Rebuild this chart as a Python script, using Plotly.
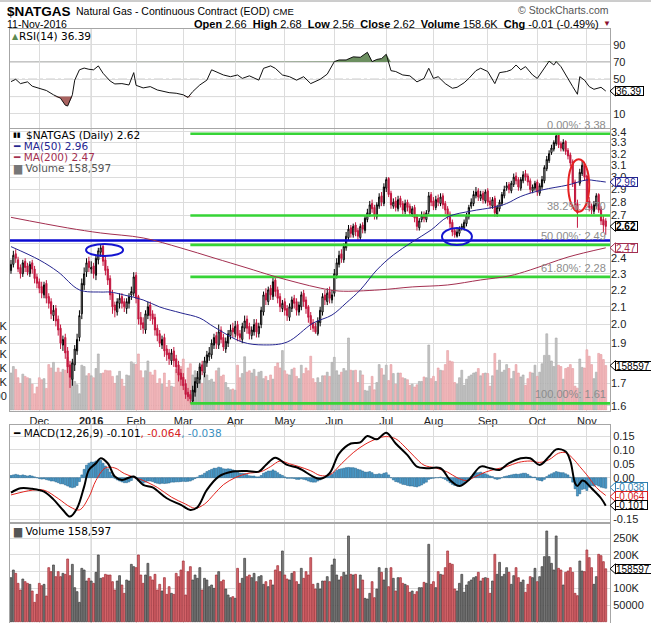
import numpy as np
import pandas as pd
import plotly.graph_objects as go

# trading days on the chart (CME holidays taken out)
holidays = ["2015-11-26", "2015-12-25", "2016-01-01", "2016-01-18", "2016-02-15",
            "2016-03-25", "2016-05-30", "2016-07-04", "2016-09-05"]
dates = pd.bdate_range("2015-11-12", "2016-11-11")
dates = dates[~dates.isin(pd.to_datetime(holidays))]

opens = [
    2.32, 2.36, 2.43, 2.39, 2.34, 2.30, 2.38, 2.35, 2.30, 2.37, 2.33, 2.28,
    2.25, 2.22, 2.17, 2.24, 2.16, 2.13, 2.05, 2.09, 2.03, 1.98, 1.89, 1.93, 1.86, 1.79, 1.72, 1.79, 1.86, 1.93, 2.06, 2.23, 2.31, 2.38,
    2.33, 2.35, 2.29, 2.39, 2.44, 2.48, 2.39, 2.33, 2.27, 2.18, 2.11, 2.07, 2.12, 2.16, 2.13, 2.09, 2.12, 2.17, 2.18,
    2.29, 2.16, 2.04, 2.01, 1.97, 2.05, 2.11, 2.06, 2.04, 1.98, 1.95, 1.89, 1.93, 1.87, 1.85, 1.81, 1.86, 1.82, 1.79, 1.75,
    1.73, 1.70, 1.66, 1.65, 1.62, 1.66, 1.70, 1.72, 1.79, 1.75, 1.80, 1.83, 1.84, 1.89, 1.94, 1.89, 1.97, 1.93, 1.87, 1.90, 1.94, 1.98,
    1.95, 2.00, 1.95, 1.92, 1.98, 2.03, 1.99, 1.94, 1.96, 2.01, 1.95, 2.00, 2.07, 2.18, 2.13, 2.21, 2.16, 2.26, 2.20, 2.16, 2.09,
    2.13, 2.09, 2.04, 2.09, 2.15, 2.13, 2.07, 2.10, 2.18, 2.14, 2.10, 2.05, 2.01, 1.99, 1.95, 2.01, 2.07, 2.17, 2.13, 2.19, 2.14,
    2.18, 2.29, 2.36, 2.43, 2.39, 2.47, 2.54, 2.61, 2.56, 2.63, 2.59, 2.54, 2.63, 2.59, 2.67, 2.71, 2.79, 2.76, 2.69, 2.77, 2.85, 2.79,
    2.91, 2.99, 2.87, 2.77, 2.81, 2.75, 2.83, 2.79, 2.73, 2.80, 2.77, 2.71, 2.76, 2.69, 2.61, 2.67, 2.71, 2.67, 2.73, 2.86,
    2.81, 2.76, 2.83, 2.79, 2.85, 2.79, 2.75, 2.71, 2.65, 2.59, 2.55, 2.57, 2.61, 2.61, 2.64, 2.69, 2.77, 2.79, 2.85, 2.89, 2.83, 2.87, 2.81,
    2.89, 2.81, 2.77, 2.83, 2.71, 2.75, 2.79, 2.85, 2.91, 2.94, 2.89, 2.94, 3.01, 2.98, 2.91, 2.97, 3.03, 3.01, 2.97, 2.89, 2.91,
    2.96, 2.87, 2.92, 2.97, 3.07, 3.14, 3.21, 3.24, 3.29, 3.37, 3.29, 3.24, 3.31, 3.23, 3.19, 3.13, 2.96, 2.79, 2.95, 3.03, 3.11,
    3.01, 2.81, 2.77, 2.73, 2.77, 2.86, 2.75, 2.67, 2.66,
]
highs = [
    2.39, 2.45, 2.46, 2.41, 2.36, 2.39, 2.40, 2.37, 2.38, 2.39, 2.35, 2.30,
    2.27, 2.25, 2.25, 2.26, 2.18, 2.15, 2.11, 2.11, 2.05, 2.00, 1.94, 1.95, 1.88, 1.81, 1.82, 1.89, 1.95, 2.08, 2.27, 2.34, 2.40, 2.41,
    2.38, 2.37, 2.42, 2.47, 2.49, 2.49, 2.41, 2.35, 2.29, 2.20, 2.13, 2.15, 2.18, 2.18, 2.15, 2.15, 2.18, 2.22, 2.31,
    2.31, 2.17, 2.07, 2.04, 2.08, 2.13, 2.13, 2.08, 2.06, 2.00, 1.97, 1.94, 1.95, 1.89, 1.87, 1.87, 1.88, 1.84, 1.81, 1.77,
    1.75, 1.72, 1.68, 1.67, 1.69, 1.73, 1.76, 1.80, 1.81, 1.83, 1.86, 1.88, 1.92, 1.95, 1.96, 2.00, 1.99, 1.95, 1.93, 1.97, 2.00, 2.01,
    2.02, 2.02, 1.97, 2.01, 2.05, 2.05, 2.01, 1.99, 2.03, 2.03, 2.01, 2.10, 2.19, 2.21, 2.22, 2.23, 2.28, 2.28, 2.22, 2.18, 2.14,
    2.15, 2.11, 2.12, 2.16, 2.17, 2.15, 2.13, 2.19, 2.20, 2.16, 2.11, 2.07, 2.03, 2.01, 2.04, 2.10, 2.18, 2.20, 2.21, 2.22, 2.20,
    2.33, 2.40, 2.45, 2.46, 2.50, 2.58, 2.63, 2.63, 2.64, 2.65, 2.61, 2.64, 2.65, 2.70, 2.75, 2.81, 2.82, 2.78, 2.80, 2.87, 2.88, 2.95,
    3.00, 3.00, 2.89, 2.83, 2.84, 2.85, 2.85, 2.81, 2.82, 2.82, 2.79, 2.77, 2.78, 2.71, 2.68, 2.73, 2.73, 2.74, 2.88, 2.88,
    2.84, 2.85, 2.86, 2.87, 2.87, 2.81, 2.77, 2.73, 2.67, 2.61, 2.60, 2.62, 2.64, 2.67, 2.72, 2.78, 2.83, 2.89, 2.92, 2.91, 2.89, 2.89, 2.90,
    2.91, 2.84, 2.84, 2.85, 2.78, 2.82, 2.88, 2.93, 2.96, 2.96, 2.97, 3.03, 3.04, 3.00, 3.00, 3.05, 3.06, 3.03, 2.99, 2.94, 2.97,
    2.98, 2.95, 3.01, 3.10, 3.18, 3.23, 3.28, 3.32, 3.38, 3.38, 3.31, 3.33, 3.32, 3.25, 3.21, 3.15, 2.98, 2.82, 3.07, 3.14, 3.13,
    3.02, 2.84, 2.79, 2.81, 2.87, 2.87, 2.77, 2.70, 2.68,
]
lows = [
    2.30, 2.34, 2.37, 2.31, 2.27, 2.28, 2.31, 2.29, 2.28, 2.30, 2.24, 2.21,
    2.18, 2.15, 2.15, 2.12, 2.09, 2.03, 2.02, 1.99, 1.94, 1.87, 1.86, 1.82, 1.75, 1.68, 1.69, 1.76, 1.84, 1.91, 2.03, 2.20, 2.28, 2.31,
    2.30, 2.27, 2.26, 2.36, 2.41, 2.35, 2.29, 2.23, 2.14, 2.06, 2.04, 2.05, 2.09, 2.09, 2.07, 2.06, 2.09, 2.14, 2.16,
    2.12, 2.00, 1.97, 1.95, 1.95, 2.03, 2.02, 2.00, 1.94, 1.91, 1.88, 1.87, 1.83, 1.81, 1.79, 1.79, 1.78, 1.75, 1.71, 1.69,
    1.67, 1.63, 1.62, 1.61, 1.61, 1.64, 1.68, 1.70, 1.74, 1.73, 1.78, 1.81, 1.82, 1.87, 1.87, 1.87, 1.90, 1.86, 1.85, 1.88, 1.92, 1.93,
    1.93, 1.91, 1.91, 1.90, 1.96, 1.95, 1.92, 1.92, 1.94, 1.93, 1.93, 1.98, 2.05, 2.11, 2.11, 2.14, 2.14, 2.16, 2.12, 2.07, 2.07,
    2.05, 2.02, 2.02, 2.07, 2.09, 2.05, 2.05, 2.08, 2.10, 2.06, 2.01, 1.97, 1.96, 1.95, 1.94, 1.99, 2.05, 2.11, 2.11, 2.12, 2.12,
    2.16, 2.27, 2.34, 2.37, 2.37, 2.45, 2.52, 2.54, 2.54, 2.55, 2.52, 2.52, 2.57, 2.57, 2.65, 2.69, 2.72, 2.67, 2.67, 2.75, 2.77, 2.77,
    2.88, 2.84, 2.75, 2.75, 2.73, 2.73, 2.76, 2.71, 2.71, 2.73, 2.70, 2.69, 2.65, 2.59, 2.59, 2.65, 2.65, 2.65, 2.71, 2.77,
    2.74, 2.74, 2.77, 2.77, 2.75, 2.71, 2.67, 2.61, 2.55, 2.54, 2.54, 2.55, 2.59, 2.59, 2.62, 2.67, 2.75, 2.77, 2.83, 2.81, 2.81, 2.79, 2.79,
    2.77, 2.75, 2.75, 2.69, 2.69, 2.73, 2.77, 2.83, 2.89, 2.87, 2.87, 2.92, 2.94, 2.89, 2.89, 2.95, 2.97, 2.93, 2.87, 2.87, 2.89,
    2.85, 2.85, 2.90, 2.95, 3.05, 3.12, 3.19, 3.22, 3.27, 3.25, 3.22, 3.22, 3.19, 3.15, 3.09, 2.92, 2.74, 2.61, 2.93, 3.01, 2.97,
    2.77, 2.73, 2.71, 2.71, 2.75, 2.72, 2.63, 2.58, 2.56,
]
closes = [
    2.36, 2.42, 2.40, 2.33, 2.30, 2.37, 2.34, 2.31, 2.36, 2.33, 2.27, 2.24,
    2.21, 2.18, 2.23, 2.15, 2.12, 2.06, 2.08, 2.02, 1.97, 1.90, 1.92, 1.85, 1.78, 1.73, 1.80, 1.87, 1.92, 2.05, 2.24, 2.30, 2.37, 2.34,
    2.34, 2.30, 2.40, 2.45, 2.47, 2.38, 2.32, 2.26, 2.17, 2.10, 2.08, 2.13, 2.15, 2.12, 2.10, 2.13, 2.16, 2.19, 2.28,
    2.15, 2.03, 2.00, 1.98, 2.06, 2.10, 2.05, 2.03, 1.97, 1.94, 1.90, 1.92, 1.86, 1.84, 1.82, 1.85, 1.81, 1.78, 1.74, 1.72,
    1.69, 1.65, 1.64, 1.63, 1.67, 1.71, 1.73, 1.78, 1.76, 1.81, 1.84, 1.85, 1.90, 1.93, 1.90, 1.96, 1.92, 1.88, 1.91, 1.95, 1.97, 1.96,
    1.99, 1.94, 1.93, 1.99, 2.02, 1.98, 1.95, 1.97, 2.00, 1.96, 1.99, 2.08, 2.17, 2.14, 2.20, 2.17, 2.25, 2.19, 2.15, 2.10, 2.12,
    2.08, 2.05, 2.10, 2.14, 2.12, 2.08, 2.11, 2.17, 2.13, 2.09, 2.04, 2.00, 1.98, 1.96, 2.02, 2.08, 2.16, 2.14, 2.18, 2.15, 2.17,
    2.30, 2.37, 2.42, 2.40, 2.48, 2.55, 2.60, 2.57, 2.62, 2.58, 2.55, 2.62, 2.60, 2.68, 2.72, 2.78, 2.75, 2.70, 2.78, 2.84, 2.80, 2.92,
    2.98, 2.86, 2.78, 2.80, 2.76, 2.82, 2.78, 2.74, 2.79, 2.76, 2.72, 2.75, 2.68, 2.62, 2.66, 2.70, 2.68, 2.72, 2.85, 2.80,
    2.77, 2.82, 2.80, 2.84, 2.78, 2.74, 2.70, 2.64, 2.58, 2.56, 2.58, 2.60, 2.62, 2.65, 2.70, 2.76, 2.80, 2.86, 2.88, 2.84, 2.86, 2.82, 2.88,
    2.80, 2.78, 2.82, 2.72, 2.76, 2.80, 2.86, 2.90, 2.93, 2.90, 2.95, 3.00, 2.97, 2.92, 2.98, 3.02, 3.00, 2.96, 2.90, 2.92, 2.95,
    2.88, 2.93, 2.98, 3.08, 3.15, 3.20, 3.25, 3.30, 3.36, 3.28, 3.25, 3.30, 3.22, 3.18, 3.12, 2.95, 2.78, 2.72, 3.04, 3.10, 3.00,
    2.80, 2.76, 2.74, 2.78, 2.85, 2.74, 2.66, 2.63, 2.62,
]
# volume in thousands of contracts
volumes = [
    132, 155, 145, 115, 95, 128, 120, 115, 112, 92, 58, 82,
    115, 108, 112, 77, 162, 150, 170, 135, 150, 135, 145, 142, 188, 138, 172, 102, 90, 58, 160, 155, 122, 130,
    122, 115, 148, 200, 130, 132, 142, 140, 140, 120, 95, 122, 138, 110, 85, 125, 122, 172, 165,
    162, 200, 140, 115, 140, 175, 135, 125, 142, 95, 112, 92, 132, 82, 105, 85, 82, 145, 135, 155,
    182, 80, 150, 165, 125, 140, 130, 162, 95, 130, 125, 105, 110, 100, 140, 150, 120, 125, 98, 80, 72, 75,
    70, 160, 115, 130, 190, 135, 140, 132, 145, 120, 135, 138, 112, 120, 105, 125, 110, 155, 168, 150, 212,
    140, 128, 125, 145, 150, 120, 112, 160, 130, 150, 140, 192, 112, 98, 115, 98, 122, 122, 135, 120, 170,
    188, 140, 125, 135, 148, 140, 257, 142, 140, 142, 98, 140, 125, 70, 68, 85, 120, 72, 98, 162, 148, 125,
    160, 105, 162, 130, 92, 132, 132, 115, 112, 108, 88, 92, 82, 90, 102, 102, 118, 115, 232, 112,
    120, 102, 150, 142, 140, 162, 212, 175, 172, 98, 92, 115, 142, 88, 110, 120, 125, 132, 135, 148, 122, 130, 132,
    130, 85, 122, 202, 142, 178, 135, 142, 162, 148, 112, 138, 162, 132, 118, 125, 88, 112, 135, 132, 160,
    120, 135, 165, 195, 272, 195, 175, 155, 257, 160, 155, 110, 148, 152, 162, 148, 85, 78, 182, 152, 150,
    215, 192, 162, 112, 135, 202, 198, 180, 158.597,
]
macd_hist = [
    0.008, 0.010, 0.012, 0.010, 0.008, 0.010, 0.008, 0.006, 0.008, 0.006, 0.003, 0.000,
    -0.003, -0.005, -0.004, -0.007, -0.009, -0.012, -0.012, -0.015, -0.018, -0.022, -0.022, -0.026, -0.030, -0.034, -0.036, -0.034, -0.028, -0.014, 0.010, 0.030, 0.045, 0.052,
    0.056, 0.056, 0.060, 0.064, 0.062, 0.052, 0.042, 0.032, 0.020, 0.008, -0.002, -0.008, -0.012, -0.015, -0.018, -0.018, -0.015, -0.010, 0.002,
    -0.004, -0.012, -0.018, -0.020, -0.016, -0.012, -0.012, -0.014, -0.018, -0.020, -0.022, -0.020, -0.021, -0.020, -0.019, -0.016, -0.016, -0.015, -0.015, -0.014,
    -0.013, -0.014, -0.013, -0.012, -0.008, -0.003, 0.002, 0.008, 0.010, 0.016, 0.022, 0.026, 0.030, 0.034, 0.034, 0.038, 0.036, 0.032, 0.031, 0.032, 0.031, 0.028,
    0.026, 0.020, 0.016, 0.016, 0.015, 0.011, 0.007, 0.006, 0.006, 0.003, 0.003, 0.008, 0.016, 0.020, 0.024, 0.024, 0.028, 0.024, 0.018, 0.012, 0.008,
    0.003, -0.002, -0.002, -0.002, -0.003, -0.006, -0.006, -0.004, -0.006, -0.008, -0.012, -0.015, -0.016, -0.016, -0.012, -0.008, 0.000, 0.002, 0.006, 0.008, 0.012,
    0.020, 0.026, 0.030, 0.032, 0.034, 0.036, 0.037, 0.036, 0.036, 0.034, 0.030, 0.028, 0.024, 0.020, 0.020, 0.022, 0.018, 0.012, 0.012, 0.014, 0.012, 0.016,
    0.018, 0.010, 0.000, -0.008, -0.014, -0.016, -0.020, -0.024, -0.025, -0.028, -0.030, -0.030, -0.032, -0.033, -0.030, -0.026, -0.020, -0.016, -0.006, -0.003,
    -0.002, 0.000, 0.000, 0.002, -0.002, -0.006, -0.012, -0.018, -0.024, -0.028, -0.030, -0.028, -0.024, -0.018, -0.012, -0.004, 0.004, 0.012, 0.018, 0.018, 0.020, 0.016, 0.014,
    0.010, 0.006, 0.004, -0.004, -0.006, -0.004, 0.000, 0.004, 0.006, 0.008, 0.010, 0.012, 0.013, 0.012, 0.014, 0.016, 0.016, 0.012, 0.006, 0.002, 0.002,
    -0.008, -0.010, -0.012, -0.006, 0.004, 0.010, 0.014, 0.018, 0.022, 0.020, 0.018, 0.018, 0.014, 0.010, 0.002, -0.016, -0.040, -0.066, -0.058, -0.042, -0.040,
    -0.046, -0.034, -0.028, -0.030, -0.026, -0.030, -0.034, -0.036, -0.038,
]

# indicator lines read at sample days (index into dates)
macd_idx = [0, 4, 9, 14, 18, 22, 25, 28, 31, 33, 36, 38, 41, 44, 47, 52, 56, 60, 66, 72, 76, 79, 83, 88,
            94, 100, 105, 108, 112, 117, 122, 128, 131, 135, 139, 144, 148, 151, 155, 159, 163, 168, 172,
            176, 182, 186, 190, 194, 199, 203, 207, 211, 216, 220, 224, 228, 231, 235, 237, 239, 240, 242,
            243, 246, 250, 252]
macd_vals = [-0.054, -0.038, -0.040, -0.050, -0.078, -0.116, -0.140, -0.110, -0.032, 0.028, 0.052, 0.070,
             0.052, 0.004, -0.008, 0.004, -0.026, -0.035, -0.074, -0.098, -0.116, -0.106, -0.044, 0.004,
             0.022, 0.024, 0.022, 0.046, 0.072, 0.046, 0.034, 0.004, -0.004, 0.016, 0.087, 0.123, 0.127,
             0.150, 0.138, 0.162, 0.123, 0.081, 0.040, 0.034, 0.034, -0.008, -0.030, -0.008, 0.040, 0.034,
             0.028, 0.052, 0.070, 0.070, 0.046, 0.076, 0.102, 0.094, 0.060, -0.020, -0.030, -0.010, -0.012,
             -0.038, -0.074, -0.101]
signal_idx = [0, 9, 14, 20, 25, 29, 33, 36, 40, 44, 48, 52, 56, 62, 68, 74, 78, 82, 86, 90, 95, 100, 106,
              110, 114, 118, 122, 127, 131, 135, 140, 145, 150, 155, 159, 163, 167, 171, 175, 180, 185, 189,
              193, 197, 201, 205, 210, 215, 220, 224, 228, 232, 235, 238, 241, 244, 248, 252]
signal_vals = [-0.062, -0.045, -0.045, -0.075, -0.105, -0.116, -0.070, -0.010, 0.035, 0.035, 0.015, 0.002,
               -0.010, -0.035, -0.070, -0.095, -0.110, -0.095, -0.060, -0.025, 0.000, 0.015, 0.022, 0.040,
               0.060, 0.050, 0.040, 0.025, 0.008, 0.010, 0.050, 0.090, 0.120, 0.140, 0.148, 0.140, 0.110,
               0.075, 0.045, 0.035, 0.020, 0.000, -0.010, 0.005, 0.020, 0.030, 0.040, 0.055, 0.060, 0.055,
               0.065, 0.088, 0.090, 0.070, 0.040, 0.010, -0.035, -0.064]
rsi_idx = [0, 2, 4, 7, 9, 12, 15, 18, 21, 23, 24, 26, 27, 29, 31, 33, 35, 37, 39, 42, 44, 47, 50, 52, 53,
           56, 59, 62, 65, 67, 70, 73, 75, 77, 80, 83, 85, 88, 90, 93, 96, 98, 101, 105, 107, 110, 112,
           115, 118, 121, 124, 127, 131, 134, 137, 139, 142, 145, 148, 151, 153, 155, 157, 159, 161, 163,
           166, 169, 172, 175, 177, 179, 181, 184, 187, 189, 192, 194, 197, 199, 202, 205, 207, 210, 212,
           214, 216, 218, 221, 223, 225, 228, 230, 231, 233, 235, 238, 240, 241, 243, 245, 247, 250, 252]
rsi_vals = [47.3, 50.0, 45.0, 47.0, 42.0, 39.6, 37.0, 32.0, 28.0, 20.0, 19.0, 32.0, 49.0, 61.0, 63.0, 61.6,
            61.0, 65.5, 57.0, 48.0, 44.6, 45.0, 43.4, 57.7, 43.0, 40.0, 41.5, 37.6, 35.7, 34.5, 33.8, 32.0,
            29.0, 35.7, 43.4, 49.0, 61.0, 57.0, 55.0, 53.0, 55.0, 51.0, 54.0, 49.0, 62.7, 65.5, 62.7, 55.0,
            53.0, 49.0, 53.0, 45.0, 50.0, 56.0, 70.5, 72.4, 72.4, 76.0, 75.5, 81.3, 70.5, 73.0, 74.0, 79.0,
            60.0, 59.0, 55.0, 54.0, 47.0, 51.0, 62.8, 51.0, 53.0, 45.0, 39.6, 40.7, 46.0, 51.0, 60.0, 62.8,
            59.0, 45.0, 57.7, 59.0, 61.0, 66.6, 61.0, 64.7, 55.0, 51.0, 59.0, 71.0, 66.6, 70.5, 64.7, 55.0,
            41.5, 32.6, 53.0, 49.0, 41.5, 38.4, 40.7, 36.39]
ma50_idx = [0, 12, 20, 29, 38, 42, 48, 56, 63, 72, 80, 86, 98, 107, 117, 128, 136, 142, 148, 155, 162,
            170, 178, 185, 195, 204, 210, 216, 225, 236, 244, 248, 252]
ma50_vals = [2.478, 2.389, 2.311, 2.200, 2.187, 2.187, 2.169, 2.140, 2.099, 2.065, 2.036, 1.987, 1.906,
             1.891, 1.906, 2.008, 2.053, 2.122, 2.200, 2.324, 2.422, 2.510, 2.594, 2.689, 2.733, 2.760,
             2.790, 2.845, 2.896, 2.936, 2.977, 2.970, 2.960]
ma200_idx = [0, 24, 38, 56, 72, 86, 100, 111, 122, 131, 139, 156, 170, 185, 199, 211, 220, 236, 252]
ma200_vals = [2.686, 2.609, 2.573, 2.538, 2.469, 2.402, 2.337, 2.286, 2.242, 2.211, 2.193, 2.200, 2.218,
              2.230, 2.261, 2.286, 2.324, 2.408, 2.470]

fib_labels = ["0.00%", "38.2%", "50.00%", "61.80%", "100.00%"]
fib_levels = [3.38, 2.70, 2.49, 2.28, 1.61]
support_level = 2.52
month_labels = ["Dec", "<b>2016</b>", "Feb", "Mar", "Apr", "May", "Jun", "Jul", "Aug", "Sep", "Oct", "Nov"]

n = len(dates)
for arr in (opens, highs, lows, closes, volumes, macd_hist):
    assert len(arr) == n, (len(arr), n)

x = list(range(n))
x_lo, x_hi = -0.42, 253.8
month_pos = [i for i in range(1, n) if dates[i].month != dates[i - 1].month]
up = [i == 0 or closes[i] >= closes[i - 1] for i in range(n)]
fib_start = int(np.argmin(lows))

W, H, ML, MR, MT = 651, 623, 10, 41, 29
PW, PH = W - ML - MR, H - MT


def px_x(p):
    return (p - ML) / PW


def px_y(p):
    return (H - p) / PH


ARIAL = "Arial, Liberation Sans, sans-serif"
VERD = "DejaVu Sans, Verdana, sans-serif"
GRID = "#dcdcdc"
BORDER = "#a6a6a6"
RED = "#c3173f"

fig = go.Figure()

# ---- main panel: volume overlay behind the price
fig.add_trace(go.Bar(
    x=x, y=volumes, xaxis="x", yaxis="y2", width=0.8,
    marker=dict(color=["#c4c4c4" if u else "#f3babd" for u in up],
                line=dict(color=["#a6a6a6" if u else "#e39aa0" for u in up], width=0.6)),
    showlegend=False, hoverinfo="skip"))

# fibonacci retracement lines and the support line
for lvl in fib_levels:
    fig.add_trace(go.Scatter(x=[fib_start, x_hi], y=[lvl, lvl], xaxis="x", yaxis="y3", mode="lines",
                             line=dict(color="#36d436", width=2.6), showlegend=False, hoverinfo="skip"))
fig.add_trace(go.Scatter(x=[x_lo, x_hi], y=[support_level] * 2, xaxis="x", yaxis="y3", mode="lines",
                         line=dict(color="#0a0ad2", width=2.6), showlegend=False, hoverinfo="skip"))

fig.add_trace(go.Scatter(x=ma200_idx, y=ma200_vals, xaxis="x", yaxis="y3", mode="lines",
                         line=dict(color="#a32f50", width=1, shape="spline"), showlegend=False, hoverinfo="skip"))
fig.add_trace(go.Scatter(x=ma50_idx, y=ma50_vals, xaxis="x", yaxis="y3", mode="lines",
                         line=dict(color="#25258f", width=1, shape="spline"), showlegend=False, hoverinfo="skip"))


def candles(sel, color):
    idx = [i for i in range(n) if sel[i]]
    return go.Candlestick(
        x=idx, open=[opens[i] for i in idx], high=[highs[i] for i in idx],
        low=[lows[i] for i in idx], close=[closes[i] for i in idx],
        xaxis="x", yaxis="y3", whiskerwidth=0,
        increasing=dict(line=dict(color=color, width=1), fillcolor="rgba(0,0,0,0)"),
        decreasing=dict(line=dict(color=color, width=1), fillcolor=color),
        showlegend=False, hoverinfo="skip")


fig.add_trace(candles(up, "#000000"))
fig.add_trace(candles([not u for u in up], RED))

# ---- RSI panel
rsi_hi = [max(v, 70) for v in rsi_vals]
rsi_lo = [min(v, 30) for v in rsi_vals]
fig.add_trace(go.Scatter(x=rsi_idx, y=[70] * len(rsi_idx), xaxis="x2", yaxis="y", mode="lines",
                         line=dict(width=0), showlegend=False, hoverinfo="skip"))
fig.add_trace(go.Scatter(x=rsi_idx, y=rsi_hi, xaxis="x2", yaxis="y", mode="lines", fill="tonexty",
                         fillcolor="#6c8f60", line=dict(width=0), showlegend=False, hoverinfo="skip"))
fig.add_trace(go.Scatter(x=rsi_idx, y=[30] * len(rsi_idx), xaxis="x2", yaxis="y", mode="lines",
                         line=dict(width=0), showlegend=False, hoverinfo="skip"))
fig.add_trace(go.Scatter(x=rsi_idx, y=rsi_lo, xaxis="x2", yaxis="y", mode="lines", fill="tonexty",
                         fillcolor="#a8625f", line=dict(width=0), showlegend=False, hoverinfo="skip"))
fig.add_trace(go.Scatter(x=rsi_idx, y=rsi_vals, xaxis="x2", yaxis="y", mode="lines",
                         line=dict(color="#111", width=1), showlegend=False, hoverinfo="skip"))

# ---- MACD panel
fig.add_trace(go.Bar(x=x, y=macd_hist, xaxis="x3", yaxis="y4", width=0.85,
                     marker=dict(color="#4d9dcc", line=dict(color="#1d5c86", width=0.5)),
                     showlegend=False, hoverinfo="skip"))
fig.add_trace(go.Scatter(x=signal_idx, y=signal_vals, xaxis="x3", yaxis="y4", mode="lines",
                         line=dict(color="#e3251f", width=1, shape="spline"), showlegend=False, hoverinfo="skip"))
fig.add_trace(go.Scatter(x=macd_idx, y=macd_vals, xaxis="x3", yaxis="y4", mode="lines",
                         line=dict(color="#000", width=2, shape="spline"), showlegend=False, hoverinfo="skip"))

# ---- volume panel
fig.add_trace(go.Bar(
    x=x, y=volumes, xaxis="x4", yaxis="y5", width=0.8,
    marker=dict(color=["#7c7c7c" if u else "#da6b70" for u in up],
                line=dict(color=["#3c3c3c" if u else "#9e2b33" for u in up], width=0.7)),
    showlegend=False, hoverinfo="skip"))

# ---- axes
xcommon = dict(range=[x_lo, x_hi], showgrid=True, gridcolor=GRID, gridwidth=1, tickvals=month_pos,
               showline=True, mirror=True, linecolor=BORDER, zeroline=False, ticks="", automargin=False)
ycommon = dict(showline=True, mirror=True, linecolor=BORDER, zeroline=False, ticks="", automargin=False,
               tickfont=dict(family=ARIAL, size=11, color="#222"), gridcolor=GRID)

price_ticks = [round(1.6 + 0.1 * k, 1) for k in range(19)]
# labels that sit under a last-value tag are left blank (grid line stays)
hidden_price = (1.8, 2.5, 2.6)
price_text = ["" if any(abs(v - h) < 1e-9 for h in hidden_price) else f"{v:.1f}" for v in price_ticks]

fig.update_layout(
    width=W, height=H, margin=dict(l=ML, r=MR, t=MT, b=0, autoexpand=False),
    paper_bgcolor="white", plot_bgcolor="white", showlegend=False,
    xaxis=dict(xcommon, anchor="y2", ticktext=month_labels, showticklabels=True,
               tickfont=dict(family=ARIAL, size=11, color="#222"), rangeslider=dict(visible=False)),
    xaxis2=dict(xcommon, anchor="y", matches="x", showticklabels=False),
    xaxis3=dict(xcommon, anchor="y4", matches="x", showticklabels=False),
    xaxis4=dict(xcommon, anchor="y5", matches="x", showticklabels=False),
    yaxis=dict(ycommon, domain=[px_y(127.5), px_y(29)], range=[-5.9, 108.3], side="right",
               anchor="x2", tickvals=[10, 30, 50, 70, 90], ticktext=["10", "", "50", "70", "90"],
               showgrid=True),
    yaxis2=dict(ycommon, domain=[px_y(410.5), px_y(128.5)], range=[-1.8, 1005], side="left",
                anchor="x", tickvals=[50, 100, 150, 200, 250, 300],
                ticktext=["50000", "100K", "150K", "200K", "250K", "300K"], showgrid=False),
    yaxis3=dict(ycommon, overlaying="y2", anchor="x", side="right", type="log",
                range=[np.log10(1.5788), np.log10(3.4297)], tickvals=price_ticks,
                ticktext=price_text, showgrid=True, showline=False),
    yaxis4=dict(ycommon, domain=[px_y(522), px_y(425)], range=[-0.1594, 0.1896], side="right",
                anchor="x3", tickvals=[-0.15, -0.10, -0.05, 0, 0.05, 0.10, 0.15],
                ticktext=["-0.15", "", "", "0.00", "0.05", "0.10", "0.15"], showgrid=True),
    yaxis5=dict(ycommon, domain=[0, px_y(524)], range=[-3.9, 292.9], side="right", anchor="x4",
                tickvals=[50, 100, 150, 200, 250], ticktext=["50000", "100K", "", "200K", "250K"],
                showgrid=True),
)

shapes = []
jan_pos = month_pos[1]
for yr in ["y", "y2", "y4", "y5"]:
    shapes.append(dict(type="line", xref="x", yref=f"{yr} domain", x0=jan_pos, x1=jan_pos, y0=0, y1=1,
                       line=dict(color="#a9a9a9", width=1), layer="below"))
for lvl, dash, col in [(70, "solid", "#8a8a8a"), (30, "solid", "#8a8a8a"), (50, "dashdot", "#8a8a8a")]:
    shapes.append(dict(type="line", xref="paper", yref="y", x0=0, x1=1, y0=lvl, y1=lvl,
                       line=dict(color=col, width=1, dash=dash), layer="below"))
# hand-drawn ellipses (index, price)
for x0, x1, y0, y1, col in [(31.8, 47.5, 2.415, 2.496, "#1515d0"),
                            (182.6, 195.3, 2.489, 2.608, "#1515d0"),
                            (236.1, 245.0, 2.728, 3.151, "#e52222")]:
    shapes.append(dict(type="circle", xref="x", yref="y3", x0=x0, x1=x1, y0=y0, y1=y1,
                       line=dict(color=col, width=2)))
# thin frame line at the very top
shapes.append(dict(type="line", xref="paper", yref="paper", x0=-ML / PW, x1=(W - ML) / PW,
                   y0=px_y(1), y1=px_y(1), line=dict(color="#9a9a9a", width=1)))

ann = []


def text(xp, yp, s, size=11, color="#000", family=ARIAL, anchor="left", **kw):
    ann.append(dict(xref="paper", yref="paper", x=px_x(xp), y=px_y(yp), text=s, showarrow=False,
                    xanchor=anchor, yanchor="middle", font=dict(family=family, size=size, color=color), **kw))


# header
text(5, 11, "<b>$NATGAS</b>", size=13.5)
text(74, 11, "Natural Gas - Continuous Contract (EOD) <span style='font-size:9.5px'>CME</span>", size=10.5)
text(5, 24, "11-Nov-2016", size=10.5)
text(601, 24, "<b>Open</b> 2.66  <b>High</b> 2.68  <b>Low</b> 2.56  <b>Close</b> 2.62  "
              "<b>Volume</b> 158.6K  <b>Chg</b> -0.01 (-0.49%)", size=11, anchor="right")
text(607, 24, "▼", size=8, color="#8a1030", anchor="center")
text(611, 10, "© StockCharts.com", size=10.5, color="#555", anchor="right")

# panel legends
text(10, 36, "<span style='color:#5d8a52'>▲</span>", size=8, family=VERD)
text(17, 36, "RSI(14) 36.39", size=10.5, family=VERD)
text(11, 135, "▮▮", size=7, family=VERD)
text(24, 135, "$NATGAS (Daily) 2.62", size=10.5, family=VERD)
text(11, 146, "<span style='color:#25258f'>━</span> <span style='color:#25258f'>MA(50) 2.96</span>",
     size=10.5, family=VERD)
text(11, 157, "<span style='color:#a32f50'>━</span> <span style='color:#a32f50'>MA(200) 2.47</span>",
     size=10.5, family=VERD)
text(11, 168, "<span style='color:#777'>▆</span> <span style='color:#555'>Volume 158,597</span>",
     size=10.5, family=VERD)
text(11, 433, "━ MACD(12,26,9) -0.101<span style='color:#d62020'>, -0.064</span>"
              "<span style='color:#3a8fbf'>, -0.038</span>", size=10.5, family=VERD)
text(11, 531, "<span style='color:#555'>▆</span> Volume 158,597", size=10.5, family=VERD)

# fibonacci labels
for lab, lvl in zip(fib_labels, fib_levels):
    ann.append(dict(xref="paper", yref="y3", x=px_x(608), y=np.log10(lvl), text=f"{lab}: {lvl:.2f}",
                    showarrow=False, xanchor="right", yanchor="bottom", yshift=1,
                    font=dict(family=ARIAL, size=11, color="#8c8c8c")))


# last-value tags on the right axis: boxed text (covers the tick label under it) + pointed nose
def tag(yref, yv, s, color, width, bold=False, anchor_val=None):
    av = yv if anchor_val is None else anchor_val
    shapes.append(dict(type="path", xref="paper", yref=yref, xsizemode="pixel", ysizemode="pixel",
                       xanchor=1, yanchor=av, path="M 0,0 L 5.5,5 L 5.5,-5 Z",
                       fillcolor="white", line=dict(color=color, width=1), layer="above"))
    ann.append(dict(xref="paper", yref=yref, x=1, y=np.log10(av) if yref == "y3" else av,
                    text=f"<b>{s}</b>" if bold else s, showarrow=False, xanchor="left",
                    yanchor="middle", xshift=5, width=width, height=8, align="left",
                    bgcolor="white", bordercolor=color, borderwidth=1, borderpad=0,
                    font=dict(family=ARIAL, size=10, color=color)))


tag("y", 36.39, "36.39", "#000", 27)
tag("y3", 2.96, "2.96", "#25258f", 21)
tag("y3", closes[-1], f"{closes[-1]:.2f}", "#000", 21, bold=True)
tag("y3", 2.47, "2.47", "#a32f50", 21)
tag("y2", volumes[-1], "158597", "#000", 36)
tag("y4", -0.038, "-0.038", "#2f7fb0", 31, anchor_val=-0.035)
tag("y4", -0.064, "-0.064", "#d62020", 31, anchor_val=-0.0675)
tag("y4", -0.101, "-0.101", "#000", 31, anchor_val=-0.100)
tag("y5", volumes[-1], "158597", "#000", 36)

fig.update_layout(shapes=shapes, annotations=ann)

fig.write_html("out.html", config={"displayModeBar": False},
               post_script="document.body.style.margin='0px';")
